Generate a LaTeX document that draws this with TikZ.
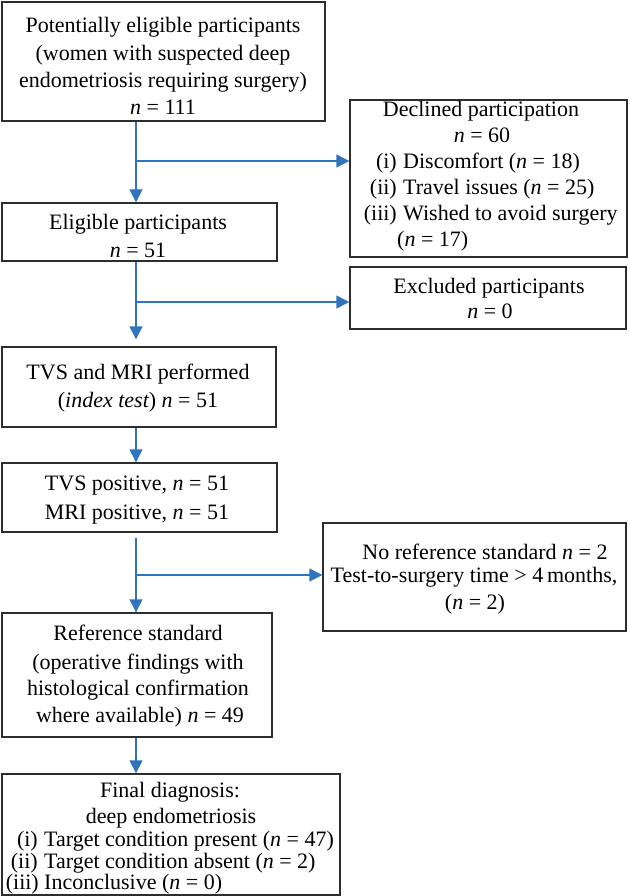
\documentclass[tikz,border=0pt]{standalone}
\usepackage{fontspec}
\setmainfont{Liberation Serif}
\usetikzlibrary{arrows.meta,fit}
\definecolor{flowblue}{RGB}{46,117,189}
\definecolor{boxline}{RGB}{45,45,45}
\begin{document}
\begin{tikzpicture}[x=1pt,y=-1pt,
  box/.style={draw=boxline, line width=1.4pt, inner sep=0pt},
  txt/.style={font=\fontsize{22}{26}\selectfont, inner sep=0pt, anchor=mid},
  txtl/.style={txt, anchor=mid west},
  txtr/.style={txt, anchor=mid east},
  arr/.style={draw=flowblue, line width=1.4pt, -{Triangle[length=13pt,width=13pt]}},
  conn/.style={draw=flowblue, line width=1.4pt}]
\useasboundingbox (0,0) rectangle (629,896);
\fill[white] (0,0) rectangle (629,896);
% column of the main flow
\coordinate (col) at (136,0);
% boxes
\node[box, fit={(2,2) (325,121)}] (b1) {};
\node[box, fit={(350,100) (627,257)}] (decl) {};
\node[box, fit={(2,203) (277,261)}] (elig) {};
\node[box, fit={(350,267) (626,329)}] (excl) {};
\node[box, fit={(2,347) (276,427)}] (tvs) {};
\node[box, fit={(2,463) (277,532)}] (pos) {};
\node[box, fit={(323,523) (626,631)}] (noref) {};
\node[box, fit={(2,613) (272,737)}] (ref) {};
\node[box, fit={(2,774) (340,895)}] (final) {};
% texts
\node[txt] (b1a) at (163,30) {Potentially eligible participants};
\node[txt] (b1b) at (163,58) {(women with suspected deep};
\node[txt] (b1c) at (163,85) {endometriosis requiring surgery)};
\node[txt] (b1d) at (163,112) {{\itshape n} = 111};

\node[txt] (dea) at (481,114) {Declined participation};
\node[txt] (deb) at (482,140) {{\itshape n} = 60};
\node[txtr] (dec1) at (397,166) {(i)};
\node[txtl] (dec2) at (403,166) {Discomfort ({\itshape n} = 18)};
\node[txtr] (ded1) at (397,192) {(ii)};
\node[txtl] (ded2) at (403,192) {Travel issues ({\itshape n} = 25)};
\node[txtr] (dee1) at (397,218) {(iii)};
\node[txtl] (dee2) at (403,218) {Wished to avoid surgery};
\node[txtl] (def) at (397,244) {({\itshape n} = 17)};

\node[txt] (ela) at (138,227) {Eligible participants};
\node[txt] (elb) at (138,255) {{\itshape n} = 51};

\node[txt] (exa) at (489,291) {Excluded participants};
\node[txt] (exb) at (490,316) {{\itshape n} = 0};

\node[txt] (tva) at (138,377) {TVS and MRI performed};
\node[txt] (tvb) at (138,405) {({\itshape index test}) {\itshape n} = 51};

\node[txt] (poa) at (137,488) {TVS positive, {\itshape n} = 51};
\node[txt] (pob) at (137,517) {MRI positive, {\itshape n} = 51};

\node[txt] (noa) at (485,557) {No reference standard {\itshape n} = 2};
\node[txt] (nob) at (474,580) {Test-to-surgery time > 4\,months,};
\node[txt] (noc) at (475,607) {({\itshape n} = 2)};

\node[txt] (rea) at (138,638) {Reference standard};
\node[txt] (reb) at (138,667) {(operative findings with};
\node[txt] (rec) at (138,693) {histological confirmation};
\node[txt] (red) at (140,720) {where available) {\itshape n} = 49};

\node[txt] (fia) at (170,795) {Final diagnosis:};
\node[txt] (fib) at (171,821) {deep endometriosis};
\node[txtr] (fic1) at (38,844) {(i)};
\node[txtl] (fic2) at (44,844) {Target condition present ({\itshape n} = 47)};
\node[txtr] (fid1) at (38,866) {(ii)};
\node[txtl] (fid2) at (44,866) {Target condition absent ({\itshape n} = 2)};
\node[txtr] (fie1) at (39,887) {(iii)};
\node[txtl] (fie2) at (44,887) {Inconclusive ({\itshape n} = 0)};
% branch points
\coordinate (br1) at (136,161);
\coordinate (br2) at (136,302);
\coordinate (br3) at (136,575);
% connectors
\draw[arr] (b1.south -| col) -- (elig.north -| col);
\draw[arr] (br1) -- (br1 -| decl.west);
\draw[arr, shorten >=7pt] (elig.south -| col) -- (tvs.north -| col);
\draw[arr] (br2) -- (br2 -| excl.west);
\draw[arr] (tvs.south -| col) -- (pos.north -| col);
\draw[arr, shorten <=5pt] (pos.south -| col) -- (ref.north -| col);
\draw[arr] (br3) -- (br3 -| noref.west);
\draw[arr] (ref.south -| col) -- (final.north -| col);
\end{tikzpicture}
\end{document}
